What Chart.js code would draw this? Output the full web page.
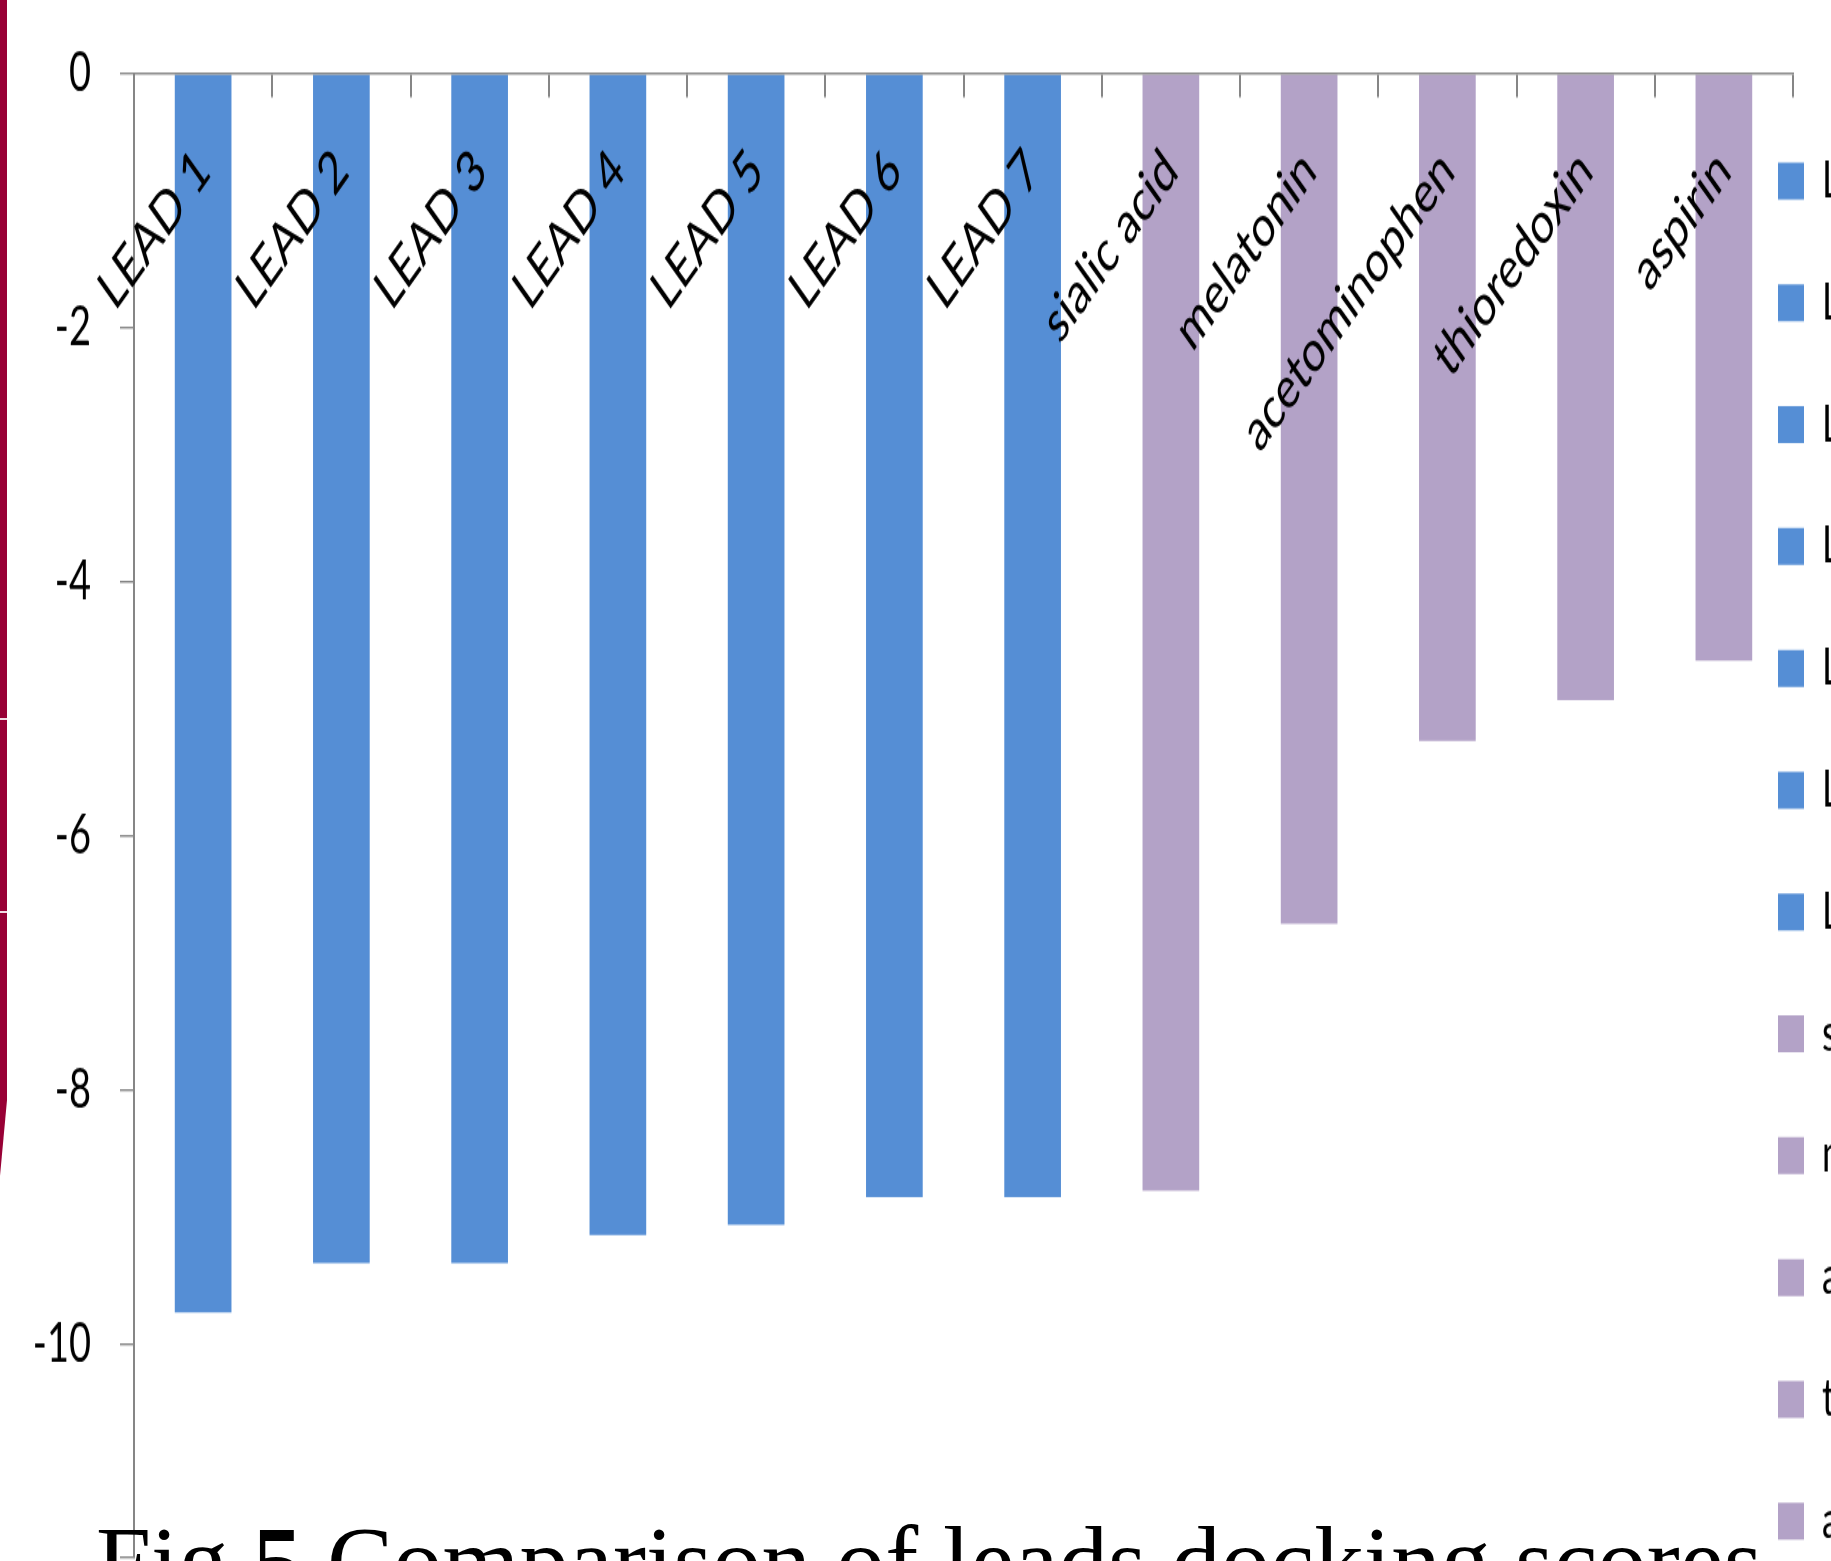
<!DOCTYPE html>
<html>
<head>
<meta charset="utf-8">
<script src="https://cdn.jsdelivr.net/npm/chart.js@4.4.1/dist/chart.umd.min.js"></script>
<style>
  html, body { margin: 0; padding: 0; background: #fff; }
  body { width: 1831px; height: 1561px; overflow: hidden; position: relative; }
  #stretch { position: absolute; left: 0; top: 0; width: 1831px; height: 1148px;
             transform: scaleY(1.42); transform-origin: 0 0; }
  #c { display: block; }
  #band { position: absolute; left: 0; top: 0; width: 7px; height: 1180px; background: #980035;
          clip-path: polygon(0 0, 100% 0, 100% 1100px, 0 1176px); }
  .gap { position: absolute; left: 0; width: 7px; height: 2px; background: #f1dbe3; }
  #caption { position: absolute; left: 96px; top: 1512px; font-family: "Liberation Serif", "DejaVu Serif", serif;
             font-size: 99px; line-height: 99px; white-space: nowrap; color: #000; }
</style>
</head>
<body>
<div id="stretch"><canvas id="c" width="1831" height="1148"></canvas></div>
<div id="band"></div>
<div class="gap" style="top:718px"></div>
<div class="gap" style="top:911px"></div>
<div id="caption">Fig <b>5</b> Comparison of leads docking scores</div>
<script>
// ---- data ----
const categories = ['LEAD 1', 'LEAD 2', 'LEAD 3', 'LEAD 4', 'LEAD 5', 'LEAD 6', 'LEAD 7',
                    'sialic acid', 'melatonin', 'acetominophen', 'thioredoxin', 'aspirin'];
const dockingScores = [-9.75, -9.36, -9.36, -9.14, -9.06, -8.84, -8.84, -8.79, -6.69, -5.25, -4.93, -4.62];
const groups = ['lead', 'lead', 'lead', 'lead', 'lead', 'lead', 'lead',
                'reference', 'reference', 'reference', 'reference', 'reference'];
const yMax = 0;
const yMin = -11.67;
const yStep = 2;

// ---- styles ----
const groupColors = { lead: '#558ED5', reference: '#B3A2C7' };
const barColors = groups.map(g => groupColors[g]);
const axisGray = '#868686';

const legendOverlap = {
  id: 'legendOverlap',
  afterLayout(chart) {
    const lg = chart.legend;
    if (!lg) return;
    const pad = lg.options.labels.padding;
    lg.left = chart.chartArea.right - 15 - pad;
    lg.right = chart.width;
    lg.width = lg.right - lg.left;
  }
};

new Chart(document.getElementById('c'), {
  type: 'bar',
  data: {
    labels: categories,
    datasets: [{
      data: dockingScores,
      backgroundColor: barColors,
      borderWidth: 0,
      barPercentage: 0.41,
      categoryPercentage: 1
    }]
  },
  options: {
    responsive: false,
    animation: false,
    devicePixelRatio: 1,
    layout: { padding: { top: 50.7, left: 0, right: 0, bottom: 0 } },
    scales: {
      x: {
        type: 'category',
        position: { y: 0 },
        offset: true,
        afterFit(scale) { scale.height = 0; },
        grid: { display: true, drawOnChartArea: false, drawTicks: true, tickLength: 16,
                color: axisGray, lineWidth: 2, offset: true },
        border: { display: true, color: axisGray, width: 1.4, z: 1 },
        ticks: { autoSkip: false, minRotation: 45, maxRotation: 45, padding: 28, z: 1,
                 color: '#000', font: { family: 'Lato', size: 41 } }
      },
      y: {
        min: yMin,
        max: yMax,
        afterFit(scale) { scale.width = 134; },
        grid: { drawOnChartArea: false, drawTicks: true, tickLength: 14, color: axisGray, lineWidth: 1.4 },
        border: { display: true, color: axisGray, width: 2 },
        ticks: { stepSize: yStep, padding: 29, color: '#000', font: { family: 'Lato', size: 38 },
                 callback: v => Number.isInteger(v) ? String(v) : '' }
      }
    },
    plugins: {
      tooltip: { enabled: false },
      legend: {
        position: 'right',
        align: 'center',
        maxWidth: 38,
        labels: {
          boxWidth: 26, boxHeight: 26, padding: 49.8, color: '#000',
          font: { family: 'Lato', size: 36 },
          generateLabels: () => categories.map((c, i) => ({
            text: c, fillStyle: barColors[i], strokeStyle: barColors[i], lineWidth: 0,
            hidden: false, index: i, datasetIndex: 0
          }))
        }
      }
    }
  },
  plugins: [legendOverlap]
});
</script>
</body>
</html>
